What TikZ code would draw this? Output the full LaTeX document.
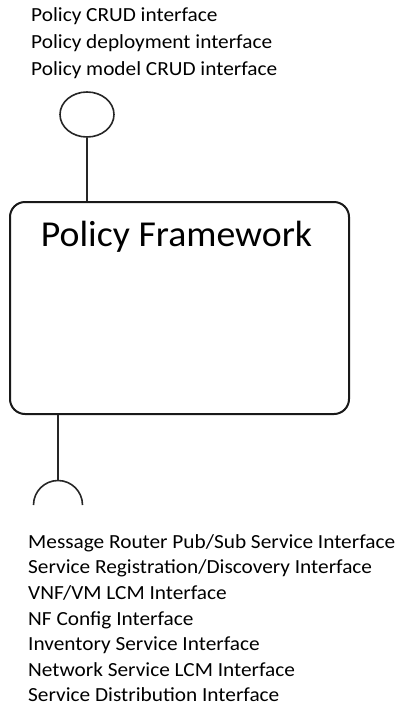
\documentclass[tikz,border=0pt]{standalone}
\usepackage{fontspec}
\usepackage{graphicx}
\setmainfont{Carlito}
\usetikzlibrary{shapes.geometric}
\definecolor{ink}{HTML}{262626}
\newcommand{\wlbl}[1]{\scalebox{1.065}[1]{#1}}
\begin{document}
\begin{tikzpicture}[x=1pt,y=-1pt,
  lbl/.style={anchor=base west,inner sep=0pt,text=black,font=\fontsize{20}{24}\selectfont},
  iface/.style={draw=ink,line width=1.6pt},
  compbox/.style={draw=black!90,line width=2pt,rounded corners=15pt,minimum width=339pt,minimum height=212pt,inner sep=0pt}]
\useasboundingbox (0,0) rectangle (398,705);
% top labels
\node[lbl] (t1) at (31,21.7) {\wlbl{Policy CRUD interface}};
\node[lbl] (t2) at (31,48.7) {\wlbl{Policy deployment interface}};
\node[lbl] (t3) at (31,75.7) {\wlbl{Policy model CRUD interface}};
% provided interface (lollipop)
\node[iface,ellipse,minimum width=54pt,minimum height=45pt,inner sep=0pt] (lolly) at (87,114.5) {};
% component
\node[compbox] (pf) at (179.5,308) {};
\node[anchor=base,inner sep=0pt,font=\fontsize{36.5}{40}\selectfont] (pftitle) at (176.5,246.7) {\scalebox{1.035}[1]{Policy Framework}};
\draw[iface] (lolly.south) -- (lolly.south |- pf.north);
% required interface (socket)
\coordinate (sock) at (58,480);
\draw[iface] (sock |- pf.south) -- (sock);
\draw[iface] (33.5,505) arc[start angle=180,end angle=360,radius=24.5];
% bottom labels
\node[lbl] (b1) at (28,548.3) {\wlbl{Message Router Pub/Sub Service Interface}};
\node[lbl] (b2) at (28,573.9) {\wlbl{Service Registration/Discovery Interface}};
\node[lbl] (b3) at (28,599.5) {\wlbl{VNF/VM LCM Interface}};
\node[lbl] (b4) at (28,625.0) {\wlbl{NF Config Interface}};
\node[lbl] (b5) at (28,650.6) {\wlbl{Inventory Service Interface}};
\node[lbl] (b6) at (28,676.1) {\wlbl{Network Service LCM Interface}};
\node[lbl] (b7) at (28,701.4) {\wlbl{Service Distribution Interface}};
\end{tikzpicture}
\end{document}
